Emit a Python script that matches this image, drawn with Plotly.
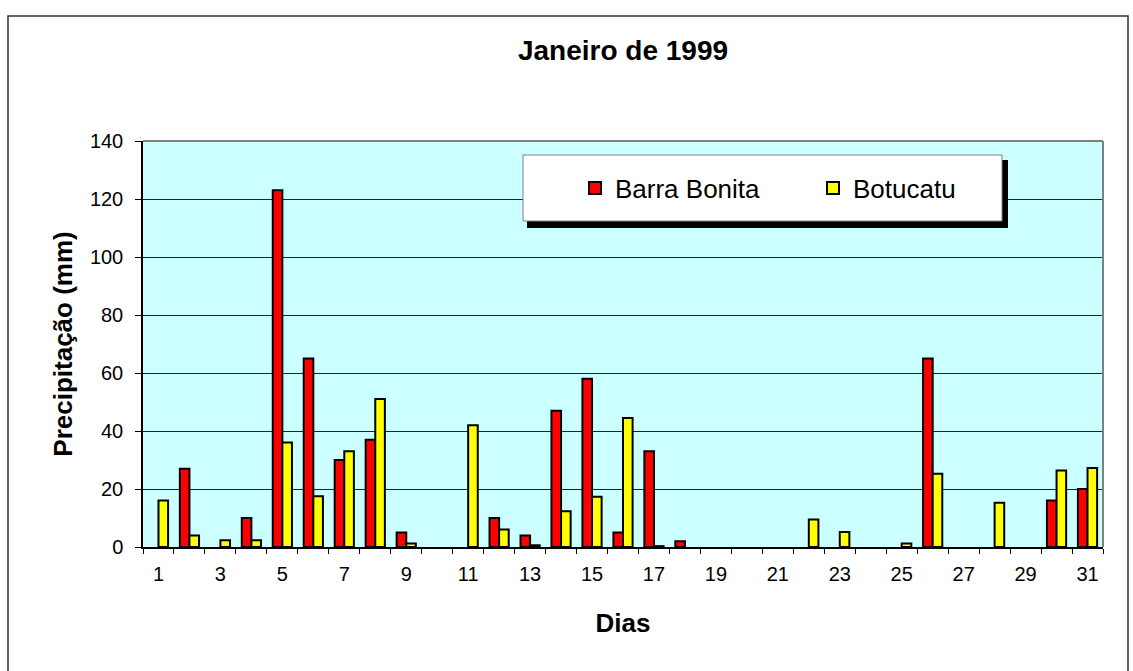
import plotly.graph_objects as go

days = list(range(1, 32))
barra_bonita = [0, 27, 0, 10, 123, 65, 30, 37, 5, 0, 0, 10, 4, 47, 58, 5, 33, 2,
                0, 0, 0, 0, 0, 0, 0, 65, 0, 0, 0, 16, 20]
botucatu = [16, 4, 2.3, 2.3, 36, 17.5, 33, 51, 1.2, 0, 42, 6, 0.6, 12.3, 17.3, 44.5, 0.3, 0,
            0, 0, 0, 9.5, 5.2, 0, 1.2, 25.3, 0, 15.3, 0, 26.4, 27.2]
tick_days = [d for d in days if d % 2 == 1]

FONT = "Arial, Liberation Sans, sans-serif"
W, H = 1133, 671
L, R, T, B = 143, 30, 141, 124
PW, PH = W - L - R, H - T - B


def px(x):
    return (x - L) / PW


def py(y):
    return (H - B - y) / PH


def shown(vals):
    # zero-rain days draw no bar
    return [v if v > 0 else None for v in vals]


fig = go.Figure()
fig.add_trace(go.Bar(x=days, y=shown(barra_bonita), name="Barra Bonita",
                     marker=dict(color="#FF0000", line=dict(color="black", width=2))))
fig.add_trace(go.Bar(x=days, y=shown(botucatu), name="Botucatu",
                     marker=dict(color="#FFFF00", line=dict(color="black", width=2))))

shapes = [
    # outer chart border
    dict(type="rect", xref="paper", yref="paper", x0=px(8), x1=px(1128), y0=py(675), y1=py(16),
         line=dict(color="#333333", width=1.5), fillcolor="rgba(0,0,0,0)", layer="below"),
    # top/right plot border (gray)
    dict(type="line", xref="paper", yref="paper", x0=0, x1=1, y0=1, y1=1,
         line=dict(color="#808080", width=2), layer="above"),
    dict(type="line", xref="paper", yref="paper", x0=1, x1=1, y0=0, y1=1,
         line=dict(color="#808080", width=2), layer="above"),
    # legend shadow and box
    dict(type="rect", xref="paper", yref="paper", x0=px(527), x1=px(1008), y0=py(228), y1=py(160),
         line=dict(width=0), fillcolor="black", layer="above"),
    dict(type="rect", xref="paper", yref="paper", x0=px(523), x1=px(1002), y0=py(221), y1=py(155),
         line=dict(color="#808080", width=1), fillcolor="white", layer="above"),
]

fig.update_layout(
    width=W, height=H,
    margin=dict(l=L, r=R, t=T, b=B, autoexpand=False),
    paper_bgcolor="white", plot_bgcolor="#CCFFFF",
    barmode="group", bargap=0.38, bargroupgap=0,
    font=dict(family=FONT, color="black", size=20),
    title=dict(text="<b>Janeiro de 1999</b>", x=0.5, xanchor="center", xref="paper",
               y=1 - 50 / H, yref="container", yanchor="middle",
               font=dict(family=FONT, size=28, color="black")),
    showlegend=True,
    legend=dict(orientation="h", x=px(575), xanchor="left", y=py(188), yanchor="middle",
                bgcolor="rgba(0,0,0,0)", borderwidth=0,
                font=dict(family=FONT, size=26, color="black"),
                entrywidth=193, entrywidthmode="pixels", traceorder="normal"),
    shapes=shapes,
)

fig.update_xaxes(
    range=[0.5, 31.5], tickmode="array", tickvals=tick_days, ticktext=[str(d) for d in tick_days],
    ticks="", ticklabelstandoff=8, showgrid=False, zeroline=False,
    showline=True, linecolor="black", linewidth=1.5,
    minor=dict(tick0=0.5, dtick=1, ticks="outside", ticklen=5, tickcolor="black", tickwidth=1, showgrid=False),
    tickfont=dict(family=FONT, size=20, color="black"),
    title=dict(text="<b>Dias</b>", font=dict(family=FONT, size=26, color="black"), standoff=30),
    automargin=False,
)
fig.update_yaxes(
    range=[0, 140], tickmode="linear", tick0=0, dtick=20,
    ticks="outside", ticklen=6, tickcolor="black", tickwidth=1, ticklabelstandoff=8,
    showgrid=True, gridcolor="#222222", gridwidth=1, zeroline=False,
    showline=True, linecolor="black", linewidth=1.5,
    tickfont=dict(family=FONT, size=20, color="black"),
    title=dict(text="<b>Precipitação (mm)</b>", font=dict(family=FONT, size=26, color="black"), standoff=10),
    automargin=False,
)

fig.write_html("out.html", config={"displayModeBar": False},
               post_script="document.body.style.margin='0';document.body.style.overflow='hidden';")
